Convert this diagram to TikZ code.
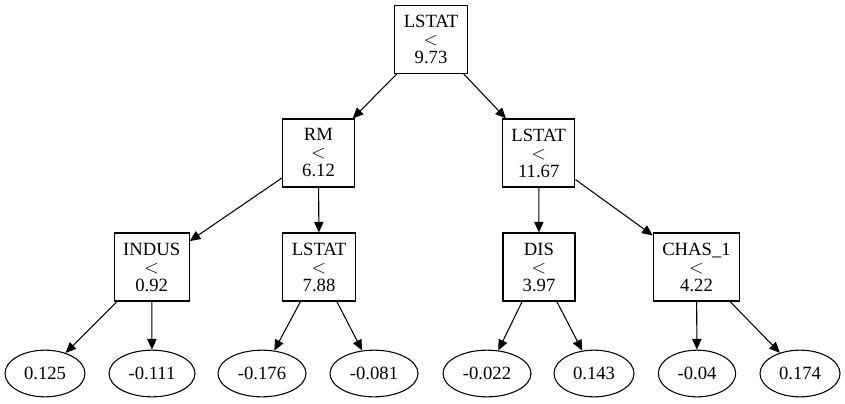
\documentclass[tikz,border=0pt]{standalone}
\usepackage{fontspec}
\setmainfont{Liberation Serif}
\usetikzlibrary{shapes.geometric,arrows.meta}
\newcommand{\lessop}{$<$}
\begin{document}
\begin{tikzpicture}[x=0.75pt,y=-0.75pt,
  split/.style={draw, rectangle, align=center, font=\fontsize{14}{13.5}\selectfont,
    minimum width=54pt, minimum height=51pt, inner xsep=6.75pt, inner ysep=2pt, line width=0.8pt},
  leaf/.style={draw, ellipse, font=\fontsize{14}{16}\selectfont,
    minimum width=#1, minimum height=35pt, inner sep=0pt, line width=0.8pt},
  edge/.style={-{Triangle[length=8pt,width=7pt]}, line width=0.8pt}]
\useasboundingbox (0,0) rectangle (845,403);
\node[split] (root) at (431,39.5) {LSTAT\\\lessop\\9.73};
\node[split] (rm) at (318.5,153) {RM\\\lessop\\6.12};
\node[split] (l2) at (538.7,153) {LSTAT\\\lessop\\11.67};
\node[split] (indus) at (151.7,267) {INDUS\\\lessop\\0.92};
\node[split] (l3) at (319,267) {LSTAT\\\lessop\\7.88};
\node[split] (dis) at (539,267) {DIS\\\lessop\\3.97};
\node[split] (chas) at (696.5,267) {CHAS\_1\\\lessop\\4.22};
\node[leaf=60pt] (a) at (45,373.5) {0.125};
\node[leaf=64.5pt] (b) at (152,373.5) {-0.111};
\node[leaf=66pt] (c) at (262,373.5) {-0.176};
\node[leaf=66pt] (d) at (374,373.5) {-0.081};
\node[leaf=66pt] (e) at (487,373.5) {-0.022};
\node[leaf=60pt] (f) at (594,373.5) {0.143};
\node[leaf=58pt] (g) at (697,373.5) {-0.04};
\node[leaf=60pt] (h) at (800,373.5) {0.174};
\draw[edge] (root) -- (rm);
\draw[edge] (root) -- (l2);
\draw[edge] (rm) -- (indus);
\draw[edge] (rm) -- (l3);
\draw[edge] (l2) -- (dis);
\draw[edge] (l2) -- (chas);
\draw[edge] (indus) -- (a);
\draw[edge] (indus) -- (b);
\draw[edge] (l3) -- (c);
\draw[edge] (l3) -- (d);
\draw[edge] (dis) -- (e);
\draw[edge] (dis) -- (f);
\draw[edge] (chas) -- (g);
\draw[edge] (chas) -- (h);
\end{tikzpicture}
\end{document}
